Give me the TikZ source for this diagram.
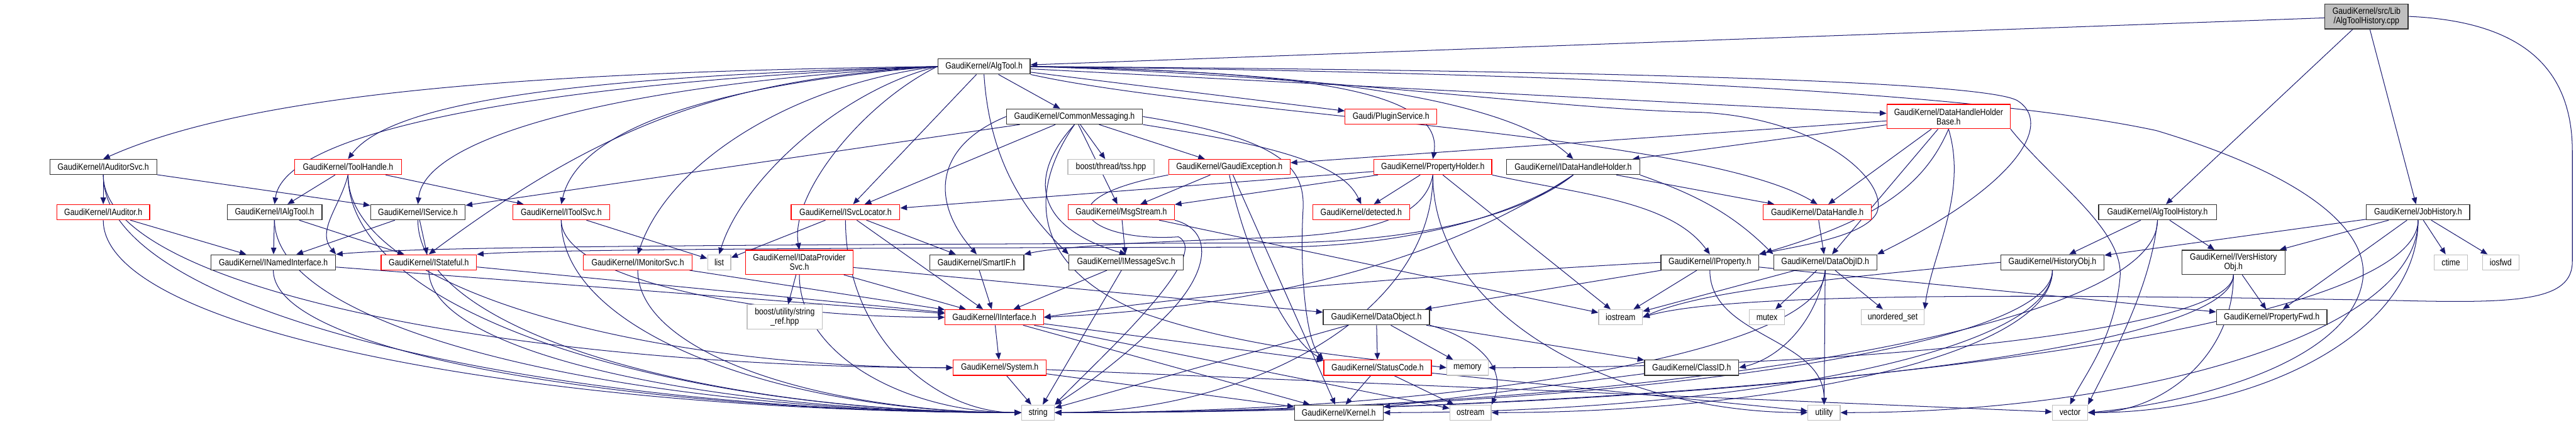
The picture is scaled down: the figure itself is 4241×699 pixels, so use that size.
\documentclass[tikz,border=0pt]{standalone}
\usepackage{fontspec}
\setmainfont{Liberation Sans}[FakeStretch=0.85]
\usetikzlibrary{arrows.meta,backgrounds,calc}
\definecolor{edgec}{HTML}{191970}
\definecolor{nodered}{HTML}{FF0000}
\definecolor{nodegray}{HTML}{BFBFBF}
\definecolor{nodeblack}{HTML}{303030}
\newcommand\EdS[2]{\draw[edg] (#1) -- (#2);}
\newcommand\EdL[2]{\draw[edg] (#1.south) .. controls ($(#1.south)!0.6!(#1.south|-#2.west)$) and ($(#2.west)!0.5!(#1.south|-#2.west)$) .. (#2.west);}
\newcommand\EdR[2]{\draw[edg] (#1.south) .. controls ($(#1.south)!0.6!(#1.south|-#2.east)$) and ($(#2.east)!0.5!(#1.south|-#2.east)$) .. (#2.east);}
\newcommand\EdD[2]{\draw[edg] (#1.south) .. controls ($(#1.south)!0.5!(#1.south|-#2.north)$) and ($(#2.north)!0.5!(#2.north|-#1.south)$) .. (#2.north);}
\begin{document}
\begin{tikzpicture}[x=1pt,y=-1pt,
  every node/.style={font=\fontsize{15pt}{15.5pt}\selectfont, inner sep=0pt, minimum height=25pt, fill=white, line width=1.3pt, align=center},
  nb/.style={draw=nodeblack},
  nr/.style={draw=nodered},
  ng/.style={draw=nodegray},
  rt/.style={draw=nodeblack, fill=nodegray},
  edg/.style={draw=edgec, line width=1.05pt, -{Triangle[length=11pt,width=9pt]}}]
\useasboundingbox (0,0) rectangle (4241,699);
% ---------------- nodes
\node[rt, minimum width=137pt, minimum height=41pt] (R) at (3896,27) {GaudiKernel/src/Lib\\/AlgToolHistory.cpp};
\node[nb, minimum width=152pt] (AT) at (1620,109.5) {GaudiKernel/AlgTool.h};
\node[nb, minimum width=224pt] (CM) at (1769,192) {GaudiKernel/CommonMessaging.h};
\node[nr, minimum width=151pt] (PS) at (2290,192) {Gaudi/PluginService.h};
\node[nr, minimum width=203pt, minimum height=40pt] (DHHB) at (3208,192) {GaudiKernel/DataHandleHolder\\Base.h};
\node[nb, minimum width=176pt] (IAS) at (170,275) {GaudiKernel/IAuditorSvc.h};
\node[nr, minimum width=176pt] (TH) at (573,275) {GaudiKernel/ToolHandle.h};
\node[ng, minimum width=142pt] (TSS) at (1829,275) {boost/thread/tss.hpp};
\node[nr, minimum width=200pt] (GE) at (2024,275) {GaudiKernel/GaudiException.h};
\node[nr, minimum width=194pt] (PH) at (2359,275) {GaudiKernel/PropertyHolder.h};
\node[nb, minimum width=219pt] (IDHH) at (2590,275) {GaudiKernel/IDataHandleHolder.h};
\node[nr, minimum width=153pt] (IA) at (170,349.5) {GaudiKernel/IAuditor.h};
\node[nb, minimum width=156pt] (IAT) at (452,349.5) {GaudiKernel/IAlgTool.h};
\node[nb, minimum width=156pt] (ISV) at (688,349.5) {GaudiKernel/IService.h};
\node[nr, minimum width=160pt] (ITS) at (924,349.5) {GaudiKernel/IToolSvc.h};
\node[nr, minimum width=179pt] (ISL) at (1392,349.5) {GaudiKernel/ISvcLocator.h};
\node[nr, minimum width=175pt] (MS) at (1846,349.5) {GaudiKernel/MsgStream.h};
\node[nr, minimum width=159pt] (DET) at (2241,349.5) {GaudiKernel/detected.h};
\node[nr, minimum width=178pt] (DH) at (2992,349.5) {GaudiKernel/DataHandle.h};
\node[nb, minimum width=194pt] (ATH) at (3552,349.5) {GaudiKernel/AlgToolHistory.h};
\node[nb, minimum width=170pt] (JH) at (3981,349.5) {GaudiKernel/JobHistory.h};
\node[nb, minimum width=205pt] (INI) at (450,432) {GaudiKernel/INamedInterface.h};
\node[nr, minimum width=157pt] (IST) at (706,432) {GaudiKernel/IStateful.h};
\node[nr, minimum width=179pt] (IMS) at (1050,432) {GaudiKernel/IMonitorSvc.h};
\node[ng, minimum width=38pt] (LIST) at (1184,432) {list};
\node[nr, minimum width=177pt, minimum height=40pt] (IDPS) at (1316,432) {GaudiKernel/IDataProvider\\Svc.h};
\node[nb, minimum width=155pt] (SIF) at (1608,432) {GaudiKernel/SmartIF.h};
\node[nb, minimum width=188pt] (IMSG) at (1854,432) {GaudiKernel/IMessageSvc.h};
\node[nb, minimum width=161pt] (IP) at (2815,432) {GaudiKernel/IProperty.h};
\node[nb, minimum width=170pt] (DOID) at (3005,432) {GaudiKernel/DataObjID.h};
\node[nb, minimum width=170pt] (HO) at (3379,432) {GaudiKernel/HistoryObj.h};
\node[nb, minimum width=170pt, minimum height=40pt] (IV) at (3677,432) {GaudiKernel/IVersHistory\\Obj.h};
\node[ng, minimum width=55pt] (CT) at (4035,432) {ctime};
\node[ng, minimum width=60pt] (IOF) at (4117,432) {iosfwd};
\node[ng, minimum width=124pt, minimum height=40pt] (SR) at (1292,522) {boost/utility/string\\\_ref.hpp};
\node[nr, minimum width=162pt] (II) at (1637,522.5) {GaudiKernel/IInterface.h};
\node[nb, minimum width=175pt] (DO) at (2266,522.5) {GaudiKernel/DataObject.h};
\node[ng, minimum width=72pt] (IOS) at (2668,522.5) {iostream};
\node[ng, minimum width=58pt] (MUT) at (2909,522.5) {mutex};
\node[ng, minimum width=104pt] (US) at (3116,522.5) {unordered\_set};
\node[nb, minimum width=182pt] (PF) at (3740,522.5) {GaudiKernel/PropertyFwd.h};
\node[nr, minimum width=153pt] (SYS) at (1646,605.5) {GaudiKernel/System.h};
\node[nr, minimum width=177pt] (SC) at (2268,605.5) {GaudiKernel/StatusCode.h};
\node[ng, minimum width=68pt] (MEM) at (2416,605.5) {memory};
\node[nb, minimum width=155pt] (CID) at (2785,605.5) {GaudiKernel/ClassID.h};
\node[ng, minimum width=54pt] (STR) at (1709,679.5) {string};
\node[nb, minimum width=146pt] (KER) at (2204,679.5) {GaudiKernel/Kernel.h};
\node[ng, minimum width=68pt] (OST) at (2421,679.5) {ostream};
\node[ng, minimum width=53pt] (UTI) at (3003,679.5) {utility};
\node[ng, minimum width=58pt] (VEC) at (3408,679.5) {vector};
% ---------------- edges
\begin{pgfonlayer}{background}
\fill[white] (0,0) rectangle (4241,699);
% root
\EdS{R}{AT} \EdS{R}{ATH} \EdS{R}{JH}
\draw[edg] (R.east) .. controls (4150,35) and (4235,110) .. (4235,250) -- (4235,430) .. controls (4235,495) and (4150,500) .. (3950,495) .. controls (3400,485) and (2850,480) .. (IOS.east);
% AlgTool
\draw[edg] (AT.west) .. controls (900,118) and (420,150) .. (IAS.north);
\draw[edg] (AT.west) .. controls (1000,125) and (650,160) .. (TH.north);
\draw[edg] (AT.west) .. controls (1000,130) and (470,200) .. (IAT.north);
\draw[edg] (AT.west) .. controls (1050,135) and (700,220) .. (ISV.north);
\draw[edg] (AT.west) .. controls (1150,140) and (950,220) .. (ITS.north);
\draw[edg] (AT.west) .. controls (1200,130) and (1000,200) .. (IST.north);
\draw[edg] (AT.west) .. controls (1300,140) and (1100,270) .. (IMS.north);
\draw[edg] (AT.west) .. controls (1380,150) and (1220,300) .. (LIST.north);
\draw[edg] (AT.west) .. controls (1420,170) and (1300,320) .. (IDPS.north);
\EdS{AT}{ISL} \EdS{AT}{CM} \EdS{AT}{PS} \EdS{AT}{DHHB}
\draw[edg] (AT.east) .. controls (2100,118) and (2380,140) .. (PH.north);
\draw[edg] (AT.east) .. controls (2250,118) and (2500,180) .. (IDHH.north);
\draw[edg] (AT.south east) .. controls (2000,190) and (2800,220) .. (DH.north);
\draw[edg] (AT.east) .. controls (2200,125) and (2550,180) .. (2800,185) .. controls (3000,195) and (3110,300) .. (3090,350) .. controls (3070,390) and (2960,405) .. (IP.north east);
\draw[edg] (AT.east) .. controls (2500,115) and (3250,130) .. (3320,165) .. controls (3380,200) and (3330,300) .. (DOID.north east);
\draw[edg] (AT.east) .. controls (2400,118) and (3200,140) .. (3550,215) .. controls (3800,290) and (3900,380) .. (3890,460) .. controls (3870,600) and (3600,665) .. (VEC.east);
\draw[edg] (AT.south) .. controls (1630,280) and (1700,360) .. (IMSG.north west);
% CommonMessaging
\EdS{CM}{ISV} \EdS{CM}{ISL} \EdS{CM}{MS} \EdS{CM}{TSS} \EdS{CM}{GE}
\draw[edg] (CM.west) .. controls (1540,240) and (1530,330) .. (SIF.north);
\draw[edg] (CM.south) .. controls (1700,280) and (1690,370) .. (IMSG.north);
\draw[edg] (CM.south east) .. controls (2100,240) and (2210,270) .. (DET.north);
\draw[edg] (CM.east) .. controls (2120,230) and (2150,280) .. (2145,350) .. controls (2140,450) and (2150,560) .. (SC.north west);
\draw[edg] (CM.south) .. controls (1690,320) and (1700,440) .. (1880,515) .. controls (2050,575) and (2250,590) .. (MEM.west);
% ToolHandle
\EdS{TH}{IAT} \EdS{TH}{ITS}
\draw[edg] (TH.south) .. controls (560,340) and (520,380) .. (INI.north east);
\EdL{TH}{STR} \EdL{TH}{SYS}
% IAuditorSvc, IAuditor
\EdS{IAS}{IA} \EdS{IAS}{ISV} \EdL{IAS}{STR} \EdL{IAS}{SYS}
\EdS{IA}{INI} \EdL{IA}{STR}
% IAlgTool, IService
\EdS{IAT}{INI} \EdS{IAT}{IST} \EdL{IAT}{STR}
\EdS{ISV}{INI} \EdS{ISV}{IST} \EdL{ISV}{STR}
% IToolSvc, ISvcLocator
\EdS{ITS}{LIST} \EdL{ITS}{II} \EdL{ITS}{STR}
\EdS{ISL}{LIST} \EdS{ISL}{SIF} \EdS{ISL}{II} \EdL{ISL}{STR}
% GaudiException, MsgStream
\EdS{GE}{MS} \EdS{GE}{KER}
\draw[edg] (GE.south) .. controls (2050,420) and (2120,560) .. (SC.north west);
\draw[edg] (GE.south west) .. controls (1700,330) and (1800,400) .. (1940,390) .. controls (2000,420) and (1800,600) .. (STR.north east);
\EdS{MS}{IMSG} \EdS{MS}{IOS}
\draw[edg] (MS.south east) .. controls (2000,380) and (1990,450) .. (1920,520) .. controls (1850,590) and (1780,640) .. (STR.north east);
% PropertyHolder
\EdS{PH}{DET} \EdS{PH}{MS} \EdS{PH}{ISL} \EdS{PH}{IOS}
\draw[edg] (PH.south east) .. controls (2600,320) and (2750,330) .. (IP.north);
\draw[edg] (PH.south) .. controls (2345,360) and (2250,385) .. (2100,391) .. controls (1900,398) and (1750,405) .. (SIF.north east);
\EdR{PH}{STR} \EdL{PH}{UTI}
% IDataHandleHolder
\draw[edg] (IDHH.south) .. controls (2540,330) and (2400,398) .. (2100,400) .. controls (1300,403) and (700,405) .. (INI.north east);
\draw[edg] (IDHH.south) .. controls (2520,340) and (2350,406) .. (2100,407) .. controls (1500,408) and (900,410) .. (IST.north east);
\draw[edg] (IDHH.south) .. controls (2450,380) and (2200,500) .. (II.east);
\EdS{IDHH}{DH}
\draw[edg] (IDHH.south east) .. controls (2790,320) and (2850,350) .. (DOID.north west);
% DataHandleHolderBase
\EdS{DHHB}{GE} \EdS{DHHB}{IDHH} \EdS{DHHB}{DH} \EdS{DHHB}{DOID}
\draw[edg] (DHHB.south) .. controls (3170,300) and (3100,360) .. (IP.north east);
\draw[edg] (DHHB.south) .. controls (3240,320) and (3180,420) .. (US.north east);
\draw[edg] (DHHB.south east) .. controls (3380,300) and (3500,380) .. (3490,460) .. controls (3480,560) and (3430,620) .. (VEC.north);
% DataHandle
\EdS{DH}{DOID}
% AlgToolHistory, JobHistory
\EdS{ATH}{HO} \EdS{ATH}{IV}
\draw[edg] (ATH.south) .. controls (3540,480) and (3470,600) .. (VEC.north east);
\EdR{ATH}{STR}
\EdS{JH}{HO} \EdS{JH}{IV} \EdS{JH}{PF} \EdS{JH}{CT} \EdS{JH}{IOF}
\EdR{JH}{STR} \EdR{JH}{UTI} \EdR{JH}{VEC}
% second row
\EdS{INI}{II} \EdL{INI}{STR}
\EdS{IST}{II} \EdL{IST}{STR}
\EdS{IMS}{II} \EdL{IMS}{STR}
\EdS{IDPS}{SR} \EdS{IDPS}{II} \EdS{IDPS}{DO} \EdL{IDPS}{STR}
\EdS{SIF}{II}
\EdS{IMSG}{II} \EdS{IMSG}{STR}
\draw[edg] (IP.west) .. controls (2400,450) and (2000,480) .. (II.east);
\EdS{IP}{DO} \EdS{IP}{PF} \EdS{IP}{IOS} \EdD{IP}{UTI}
\EdS{DOID}{MUT} \EdS{DOID}{US} \EdS{DOID}{UTI} \EdS{DOID}{IOS} \EdR{DOID}{STR}
\draw[edg] (DOID.south) .. controls (2990,530) and (2930,590) .. (CID.east);
\draw[edg] (HO.west) .. controls (3000,460) and (2800,480) .. (IOS.east);
\EdR{HO}{STR} \EdR{HO}{OST} \EdR{HO}{KER}
\EdS{IV}{PF} \EdR{IV}{STR} \EdR{IV}{VEC} \EdR{IV}{MEM}
% third row
\EdS{II}{SYS} \EdS{II}{KER} \EdS{II}{SC} \EdS{II}{OST}
\EdS{DO}{SC} \EdS{DO}{MEM} \EdS{DO}{CID} \EdS{DO}{STR}
\draw[edg] (DO.south east) .. controls (2440,560) and (2480,610) .. (OST.north east);
% fourth row
\EdS{SYS}{STR} \EdS{SYS}{KER} \EdS{SYS}{VEC}
\EdS{SC}{KER} \EdS{SC}{OST} \EdS{SC}{UTI}
\EdS{CID}{KER}
\end{pgfonlayer}
\end{tikzpicture}
\end{document}
